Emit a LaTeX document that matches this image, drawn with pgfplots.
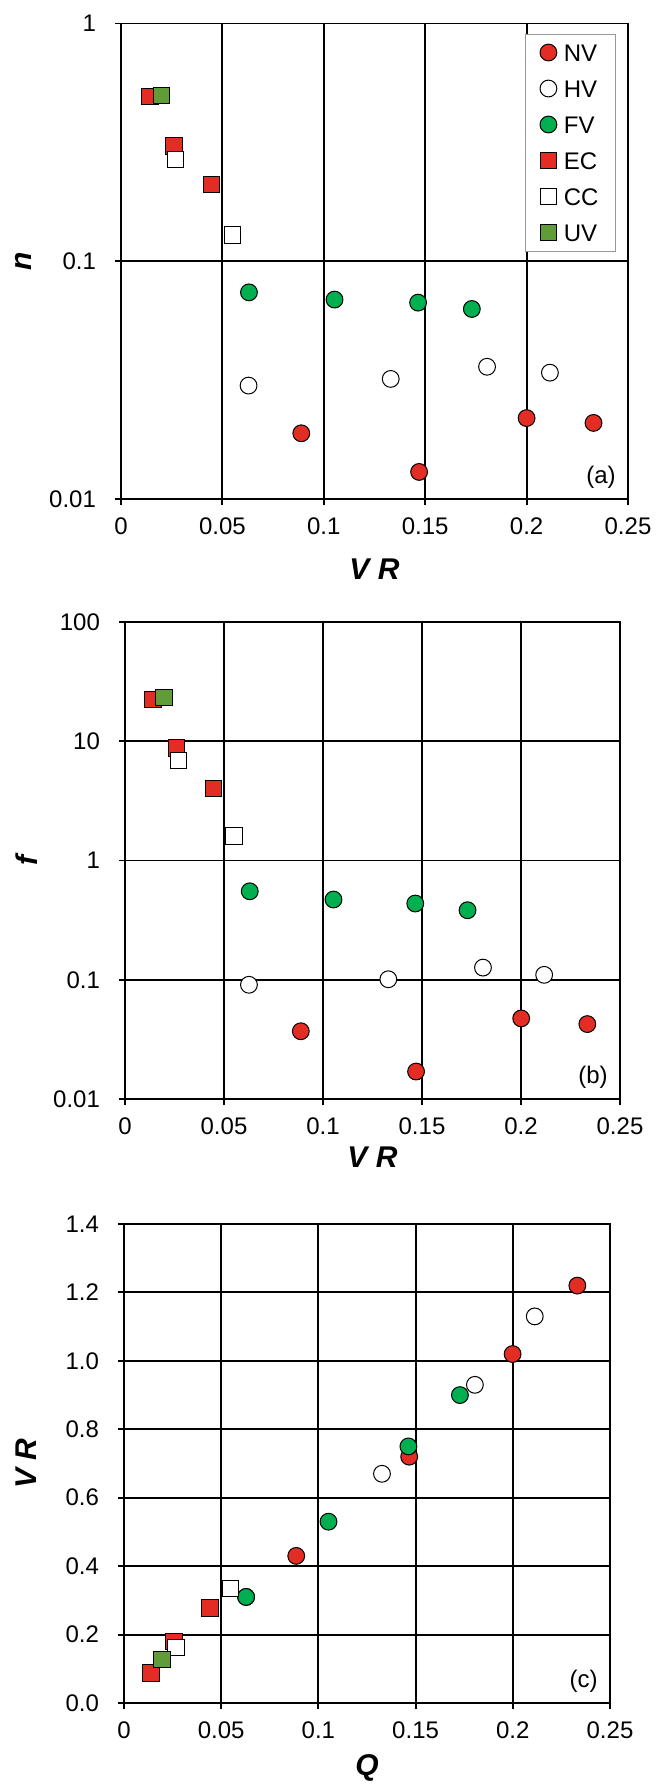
\documentclass[border=0pt]{standalone}
\usepackage{fontspec}
\setmainfont{Liberation Sans}
\usepackage{pgfplots}
\pgfplotsset{compat=1.18}

\definecolor{cred}{RGB}{227,45,36}
\definecolor{cgreen}{RGB}{0,176,80}
\definecolor{colive}{RGB}{96,156,56}

\newcommand{\labfont}{\fontsize{15}{18}\selectfont\bfseries\itshape}

\pgfplotsset{
  base/.style={
    scale only axis,
    anchor=south west,
    xmin=0, xmax=0.25,
    xtick={0,0.05,0.1,0.15,0.2,0.25},
    xticklabels={0,0.05,0.1,0.15,0.2,0.25},
    scaled x ticks=false,
    grid=major,
    major grid style={black, line width=0.95pt},
    axis line style={black, line width=0.95pt},
    tick align=outside, tick pos=left,
    major tick length=3pt,
    tick style={black, line width=0.95pt},
    /pgf/number format/assume math mode=true,
    ticklabel style={font=\fontsize{12}{14}\selectfont},
    xticklabel style={yshift=-3pt},
    yticklabel style={xshift=-6pt},
    every axis x label/.style={at={([yshift=-35pt]axis description cs:0.5,0)}, anchor=center, font=\labfont},
    every axis y label/.style={at={([xshift=-49pt]axis description cs:0,0.5)}, anchor=center, rotate=90, font=\labfont},
    clip=false,
  },
  pNV/.style={only marks, mark=*, mark size=4.2pt, draw=black, fill=cred, line width=0.5pt},
  pHV/.style={only marks, mark=*, mark size=4.2pt, draw=black, fill=white, line width=0.5pt},
  pFV/.style={only marks, mark=*, mark size=4.2pt, draw=black, fill=cgreen, line width=0.5pt},
  pEC/.style={only marks, mark=square*, mark size=4.1pt, draw=black, fill=cred, line width=0.5pt},
  pCC/.style={only marks, mark=square*, mark size=4.1pt, draw=black, fill=white, line width=0.5pt},
  pUV/.style={only marks, mark=square*, mark size=4.1pt, draw=black, fill=colive, line width=0.5pt},
}

\begin{document}
\begin{tikzpicture}
\path[use as bounding box] (0,0) rectangle (328pt,-895pt);

% ---------------- (a) ----------------
\begin{axis}[base,
  at={(60.5pt,-249.5pt)},
  width=253.5pt, height=237.75pt,
  ymode=log, ymin=0.01, ymax=1,
  ytick={0.01,0.1,1}, yticklabels={0.01,0.1,1},
  yminorticks=false,
  xlabel={V R}, ylabel={n},
  legend style={at={(1,1)}, anchor=north east, xshift=-6pt, yshift=-5pt,
    draw=gray!80, line width=0.5pt, fill=white,
    font=\fontsize{12}{14}\selectfont,
    inner xsep=7.5pt, inner ysep=4pt, row sep=7.5pt,
    nodes={inner sep=1pt, text height=8.5pt, text depth=0pt},
    /tikz/every odd column/.append style={column sep=2.5pt}},
  legend cell align=left,
  legend image code/.code={\draw[#1] plot coordinates {(0pt,0pt)};},
]
\addplot[pNV] coordinates {(0.0889,0.0189) (0.147,0.013) (0.200,0.0219) (0.233,0.0209)};
\addplot[pHV] coordinates {(0.0629,0.030) (0.133,0.032) (0.1805,0.036) (0.2115,0.034)};
\addplot[pFV] coordinates {(0.0631,0.074) (0.1053,0.069) (0.1465,0.067) (0.173,0.063)};
\addplot[pEC] coordinates {(0.0143,0.492) (0.0262,0.305) (0.0447,0.21)};
\addplot[pCC] coordinates {(0.027,0.268) (0.0551,0.129)};
\addplot[pUV] coordinates {(0.0201,0.497)};
\legend{NV,HV,FV,EC,CC,UV}
\node[anchor=south east, inner sep=0pt, font=\fontsize{12}{14}\selectfont] at ([xshift=-6pt,yshift=5pt]rel axis cs:1,0) {(a)};
\end{axis}

% ---------------- (b) ----------------
\begin{axis}[base,
  at={(62.5pt,-549.5pt)},
  width=247.5pt, height=238.5pt,
  ymode=log, ymin=0.01, ymax=100,
  ytick={0.01,0.1,1,10,100}, yticklabels={0.01,0.1,1,10,100},
  yminorticks=false,
  xlabel={V R}, ylabel={f},
  every axis x label/.style={at={([yshift=-29pt]axis description cs:0.5,0)}, anchor=center, font=\labfont},
]
\addplot[pNV] coordinates {(0.0888,0.037) (0.147,0.017) (0.2001,0.0474) (0.2335,0.0425)};
\addplot[pHV] coordinates {(0.0626,0.0908) (0.133,0.101) (0.1808,0.1265) (0.2117,0.110)};
\addplot[pFV] coordinates {(0.063,0.552) (0.1053,0.471) (0.1466,0.436) (0.173,0.383)};
\addplot[pEC] coordinates {(0.0142,22.5) (0.026,8.77) (0.0446,4.04)};
\addplot[pCC] coordinates {(0.0271,6.93) (0.055,1.6)};
\addplot[pUV] coordinates {(0.0197,23.2)};
\node[anchor=south east, inner sep=0pt, font=\fontsize{12}{14}\selectfont] at ([xshift=-6pt,yshift=5pt]rel axis cs:1,0) {(b)};
\end{axis}

% ---------------- (c) ----------------
\begin{axis}[base,
  at={(62pt,-851.5pt)},
  width=243pt, height=239.5pt,
  ymin=0, ymax=1.4,
  ytick={0,0.2,0.4,0.6,0.8,1.0,1.2,1.4},
  yticklabels={0.0,0.2,0.4,0.6,0.8,1.0,1.2,1.4},
  xlabel={Q}, ylabel={V R},
  every axis x label/.style={at={([yshift=-32.5pt]axis description cs:0.5,0)}, anchor=center, font=\labfont},
]
\addplot[pNV] coordinates {(0.0886,0.43) (0.1467,0.72) (0.1999,1.02) (0.2332,1.22)};
\addplot[pHV] coordinates {(0.0628,0.31) (0.1327,0.67) (0.1805,0.93) (0.2113,1.13)};
\addplot[pFV] coordinates {(0.0628,0.31) (0.1052,0.53) (0.1463,0.75) (0.1728,0.90)};
\addplot[pEC] coordinates {(0.0138,0.0875) (0.0258,0.179) (0.0443,0.2775)};
\addplot[pCC] coordinates {(0.0267,0.1625) (0.0549,0.335)};
\addplot[pUV] coordinates {(0.0196,0.1275)};
\node[anchor=south east, inner sep=0pt, font=\fontsize{12}{14}\selectfont] at ([xshift=-6pt,yshift=5pt]rel axis cs:1,0) {(c)};
\end{axis}
\end{tikzpicture}
\end{document}
